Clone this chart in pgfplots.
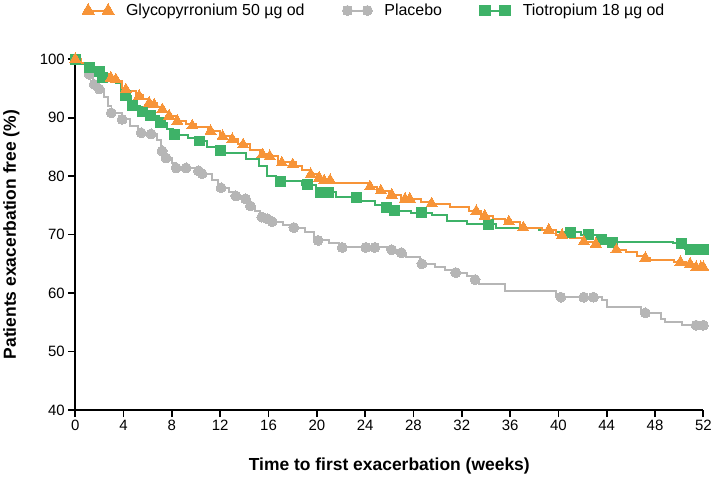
\documentclass[border=0pt]{standalone}
\usepackage{fontspec}
\setmainfont{Liberation Sans}
\usepackage{pgfplots}
\pgfplotsset{compat=1.18}
\definecolor{glyc}{RGB}{247,148,56}
\definecolor{plac}{RGB}{182,182,182}
\definecolor{tio}{RGB}{62,178,104}
\begin{document}
\begin{tikzpicture}
\begin{axis}[
  scale only axis, width=630pt, height=352pt,
  xmin=0, xmax=52, ymin=40, ymax=100,
  axis x line=bottom, axis y line=left,
  axis line style={-, line width=1.8pt, black},
  xtick={0,4,...,52}, ytick={40,50,...,100},
  tick align=outside, major tick length=7pt,
  tick style={black, line width=1.8pt},
  /pgf/number format/assume math mode=true,
  ticklabel style={font=\fontsize{15}{18}\selectfont},
  xlabel={\textbf{Time to first exacerbation (weeks)}},
  ylabel={\textbf{Patients exacerbation free (\%)}},
  label style={font=\fontsize{17.5}{21}\selectfont},
  xlabel style={at={(axis description cs:0.5,-0.159)}, anchor=center},
  ylabel style={at={(axis description cs:-0.1016,0.5)}, anchor=center, rotate=0},
  clip=false,
  legend columns=3,
  legend image code/.code={\draw[#1] plot coordinates {(0pt,0pt) (20pt,0pt)};},
  legend style={draw=none, fill=none, at={(axis description cs:0.476,1.1385)}, anchor=center,
    font=\fontsize{16}{19}\selectfont,
    /tikz/every even column/.append style={column sep=36pt},
    /tikz/every odd column/.append style={column sep=10pt}},
]
\addlegendimage{glyc, line width=2pt, mark=triangle*, mark size=7pt, mark options={solid,fill=glyc,draw=glyc,line width=0pt}}
\addlegendentry{Glycopyrronium 50 µg od}
\addlegendimage{plac, line width=2pt, mark=*, mark size=5pt, mark options={solid,fill=plac,draw=plac,line width=0pt}}
\addlegendentry{Placebo}
\addlegendimage{tio, line width=2pt, mark=square*, mark size=5.5pt, mark options={solid,fill=tio,draw=tio,line width=0pt}}
\addlegendentry{Tiotropium 18 µg od}

% Placebo
\addplot[const plot, plac, line width=2pt, forget plot] table {
x y
0 100
0.4 99.2
0.9 98.3
1.1 97.4
1.5 95.7
2.0 94.9
2.4 93.5
2.7 92
3.0 90.8
3.9 89.7
4.5 88.6
5.2 87.4
6.0 87.2
6.8 86.2
7.1 84.3
7.5 83.1
8.0 82.2
8.3 81.4
10.0 80.9
10.4 80.4
11.3 79.3
11.8 78.0
12.7 77.3
13.2 76.6
14.0 76.1
14.4 74.9
14.9 74.0
15.3 73.0
15.8 72.7
16.2 72.2
17.2 71.6
18.0 71.2
19.0 70.4
19.8 69.0
21.0 68.5
21.8 67.8
25.8 67.4
26.8 66.9
27.4 66.1
28.5 65.0
29.8 64.4
30.6 63.9
31.2 63.5
32.4 63.0
33.0 62.3
33.4 61.6
35.6 60.4
39.8 59.3
43.6 58.9
44.0 57.6
46.8 56.6
48.5 55.6
48.8 55.0
50.2 54.5
52 54.5
};
\addplot[only marks, mark=*, mark size=5pt, plac, mark options={fill=plac,draw=plac,line width=0pt}, forget plot] table {
x y
0 100
1.16 97.4
1.57 95.7
1.98 94.9
2.98 90.8
3.88 89.7
5.45 87.4
6.28 87.2
7.19 84.3
7.52 83.1
8.35 81.4
9.17 81.4
10.2 80.9
10.5 80.4
12.07 78.0
13.3 76.6
14.1 76.1
14.5 74.9
15.45 73.0
15.9 72.7
16.3 72.2
18.1 71.2
20.1 69.0
22.1 67.8
24.05 67.8
24.8 67.8
26.2 67.4
27.0 66.9
28.7 65.0
31.5 63.5
33.1 62.3
40.2 59.3
42.1 59.3
42.9 59.3
47.2 56.6
51.4 54.5
52 54.5
};

% Tiotropium
\addplot[const plot, tio, line width=2pt, forget plot] table {
x y
0 100
0.5 99.2
1.1 98.5
1.9 97.9
2.2 96.8
3.4 96.0
3.8 94.2
4.1 93.7
4.6 92.0
5.4 91.1
6.1 90.3
6.9 89.1
7.6 88.0
8.1 87.1
9.3 86.5
10.1 86.0
10.9 85.0
11.7 84.3
12.4 84.0
14.1 82.9
15.2 81.7
15.9 80.0
16.6 79.1
18.8 78.5
19.9 77.2
21.6 76.4
23.6 75.8
24.8 75.1
25.5 74.6
26.2 74.1
27.8 73.7
29.5 73.3
30.8 72.4
32.4 71.8
34.8 71.2
38.4 70.8
39.8 70.4
41.9 70.0
43.3 69.2
44.2 68.7
49.5 68.5
50.5 67.5
52 67.5
};
\addplot[only marks, mark=square*, mark size=5pt, tio, mark options={fill=tio,draw=tio,line width=0pt}, forget plot] table {
x y
0 100
1.16 98.5
1.98 97.9
2.26 96.8
4.19 93.7
4.74 92.0
5.56 91.1
6.26 90.3
7.08 89.1
8.18 87.1
10.25 86.0
12.0 84.3
17.0 79.1
19.2 78.5
20.3 77.2
21.0 77.2
23.3 76.3
25.8 74.6
26.4 74.1
28.7 73.7
34.2 71.8
41.0 70.4
42.5 70.0
43.6 69.2
44.5 68.7
50.2 68.5
50.9 67.5
51.3 67.5
51.7 67.5
52 67.5
};

% Glycopyrronium
\addplot[const plot, glyc, line width=2pt, forget plot] table {
x y
0 100
0.5 99.3
1.0 98.7
1.6 98.0
2.2 97.5
2.8 96.8
3.4 96.2
3.9 95.0
4.4 94.6
5.0 93.8
5.6 93.2
6.0 92.5
6.8 91.8
7.2 91.0
7.7 90.2
8.3 89.4
9.2 88.9
10.0 88.4
11.0 87.7
12.0 86.9
12.8 86.3
13.5 85.5
14.5 84.5
15.3 83.7
16.0 83.4
16.8 82.4
18.3 81.8
18.8 81.0
19.4 80.3
20.0 79.7
20.5 79.2
21.3 78.9
24.2 78.2
25.0 77.5
26.0 76.8
27.0 76.1
28.6 75.5
29.5 75.2
31.0 74.8
32.6 74.0
33.6 73.2
34.6 72.7
35.6 72.2
36.8 71.2
38.6 70.8
39.8 70.0
41.0 69.4
42.0 68.8
43.0 68.4
44.6 67.4
45.6 67.0
46.5 66.4
47.2 66.0
47.6 65.6
49.6 65.3
50.6 65.0
51.1 64.4
52 64.4
};
\addplot[only marks, mark=triangle*, mark size=6.4pt, glyc, mark options={fill=glyc,draw=glyc,line width=0pt}, forget plot] table {
x y
0 100
2.95 96.8
3.36 96.5
4.19 94.8
5.29 93.7
6.12 92.5
6.53 92.2
7.21 91.4
7.77 90.3
8.45 89.4
9.69 88.6
11.2 87.7
12.2 86.8
13.0 86.3
13.9 85.4
15.5 83.7
16.1 83.4
17.1 82.3
18.0 82.0
19.5 80.3
20.2 79.7
20.6 79.2
21.1 79.3
24.4 78.2
25.3 77.5
26.2 76.8
27.3 76.1
27.7 76.1
29.5 75.3
33.2 74.0
33.9 73.2
35.9 72.2
37.1 71.2
39.2 70.8
40.3 69.9
42.1 68.8
43.1 68.4
44.8 67.4
47.2 66.0
50.1 65.3
50.9 65.0
51.4 64.4
51.8 64.4
52 64.4
};
\end{axis}
\end{tikzpicture}
\end{document}
